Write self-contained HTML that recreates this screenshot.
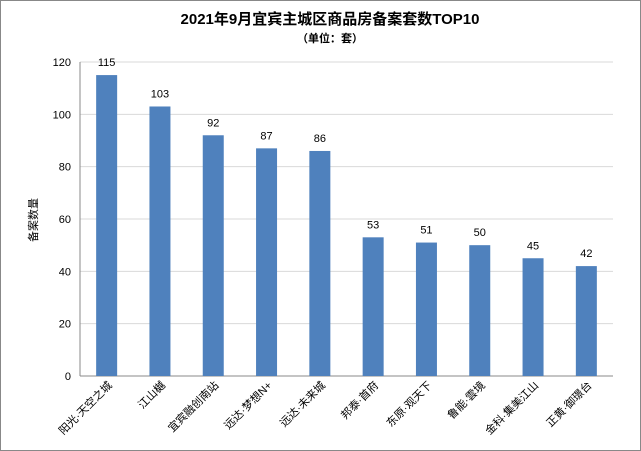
<!DOCTYPE html>
<html><head><meta charset="utf-8"><style>
body{margin:0;background:#fff;}
svg{display:block;font-family:"Liberation Sans","Noto Sans CJK SC",sans-serif;}
</style></head><body>
<svg id="chart" width="641" height="451" viewBox="0 0 641 451">
<rect x="0.5" y="0.5" width="640" height="450" fill="#fff" stroke="#888"/>
<text x="330" y="24" text-anchor="middle" font-size="15" font-weight="bold">2021年9月宜宾主城区商品房备案套数TOP10</text>
<text x="330" y="42" text-anchor="middle" font-size="11" font-weight="bold">（单位：套）</text>
<text transform="translate(37,220) rotate(-90)" text-anchor="middle" font-size="11">备案数量</text>
<g id="grid"></g><g id="bars"></g><g id="labels"></g>
</svg>
<script>
const categories=["阳光·天空之城","江山樾","宜宾融创南站","远达·梦想N+","远达·未来城","邦泰·首府","东原·观天下","鲁能·雲境","金科·集美江山","正黄·御璟台"];
const values=[115,103,92,87,86,53,51,50,45,42];
const yTicks=[0,20,40,60,80,100,120];
const NS="http://www.w3.org/2000/svg";
const x0=80,x1=613,yBase=376,yTop=62,yMax=120;
const y=v=>yBase-(yBase-yTop)*v/yMax;
const slot=(x1-x0)/categories.length;
const xc=i=>x0+slot*(i+0.5);
function mk(tag,attrs,parent,text){const e=document.createElementNS(NS,tag);for(const k in attrs)e.setAttribute(k,attrs[k]);if(text!==undefined)e.textContent=text;document.getElementById(parent).appendChild(e);return e;}
yTicks.forEach(t=>{
 const l=mk('line',{x1:x0,x2:x1,y1:y(t),y2:y(t),stroke:t===0?'#888':'#d9d9d9'},'grid');
 
 
 const tx=mk('text',{x:71,y:y(t)+4,'text-anchor':'end','font-size':11},'grid',t);
 
 
});
const ax=mk('line',{x1:x0,x2:x0,y1:yTop,y2:yBase,stroke:'#888'},'grid');


values.forEach((v,i)=>{
 const b=mk('rect',{x:xc(i)-10.5,y:y(v),width:21,height:yBase-y(v),fill:'#4f81bd'},'bars');
 
 
 const t=mk('text',{x:xc(i),y:y(v)-9,'text-anchor':'middle','font-size':11},'labels',v);
 
 
 const c=mk('text',{transform:`translate(${xc(i)+6},${yBase+10}) rotate(-45)`,'text-anchor':'end','font-size':11},'labels',categories[i]);
 
 
});
</script>
</body></html>
